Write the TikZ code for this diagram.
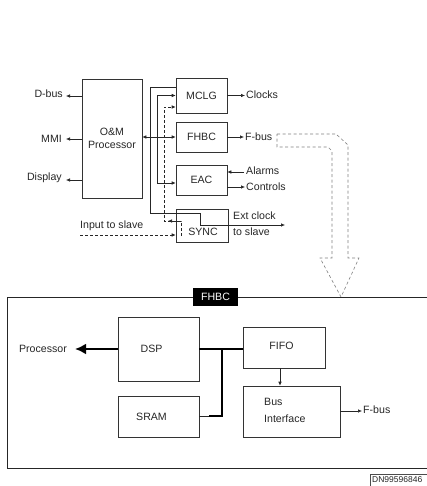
\documentclass[tikz,border=0pt]{standalone}
\usepackage{fontspec}
\setmainfont{Liberation Sans}
\usetikzlibrary{arrows.meta}
\begin{document}
\begin{tikzpicture}[x=1pt,y=-1pt,
  box/.style={draw=black!80, line width=0.6pt, inner sep=0pt, font=\fontsize{10.6}{13}\selectfont, text=black!85},
  lbl/.style={inner sep=0pt, font=\fontsize{10.6}{13}\selectfont, text=black!85},
  wire/.style={line width=0.6pt, draw=black!85},
  arr/.style={wire, -{Latex[length=4pt,width=3.5pt]}},
  biarr/.style={wire, {Latex[length=4pt,width=3.5pt]}-{Latex[length=4pt,width=3.5pt]}},
  dwire/.style={line width=0.6pt, draw=black!85, dash pattern=on 3pt off 2pt},
  fbout/.style={line width=0.6pt, draw=black!50, dash pattern=on 3pt off 2.5pt},
  bus/.style={line width=2.5pt, draw=black}
]
\useasboundingbox (0,0) rectangle (427,486);

% ---------- upper part ----------
\node[box, minimum width=60, minimum height=119, align=center] (om) at (112,138.5) {O\&M\\Processor};
\node[box, minimum width=51, minimum height=35] (mclg) at (201.5,95.5) {MCLG};
\node[box, minimum width=51, minimum height=30] (fhbc) at (201.5,137) {FHBC};
\node[box, minimum width=51, minimum height=30] (eac) at (201.5,180) {EAC};
\node[box, minimum width=52, minimum height=33] (sync) at (202,225.5) {};
\node[lbl] (synct) at (203,232) {SYNC};

% left outputs
\node[lbl, anchor=east] (dbus) at (63,94) {D-bus};
\node[lbl, anchor=east] (mmi) at (62,139) {MMI};
\node[lbl, anchor=east] (disp) at (62,178) {Display};
\coordinate (dbe) at (66,96);
\coordinate (mme) at (66,139);
\coordinate (dse) at (66,180);
\draw[arr] (om.west |- dbe) -- (dbe);
\draw[arr] (om.west |- mme) -- (mme);
\draw[arr] (om.west |- dse) -- (dse);

% O&M <-> FHBC
\draw[biarr] (om.east |- fhbc.west) -- (fhbc.west);

% line A: MCLG -> SYNC -> Ext clock
\coordinate (a1) at (150,87);
\coordinate (a2) at (150,213);
\coordinate (a3) at (200,213);
\coordinate (a4) at (200,225);
\coordinate (ext) at (285,225);
\draw[arr] (a1 -| mclg.west) -- (a1) -- (a2) -- (a3) -- (a4) -- (ext);

% line B: MCLG <-> EAC
\coordinate (b1) at (157,95.5);
\coordinate (b2) at (157,183);
\draw[biarr] (b1 -| mclg.west) -- (b1) -- (b2) -- (b2 -| eac.west);

% dashed line C: SYNC -> MCLG
\coordinate (c0) at (181,236);
\coordinate (c1) at (181,221);
\coordinate (c2) at (164,221);
\coordinate (c3) at (164,107);
\draw[dwire, -{Latex[length=4pt,width=3.5pt]}] (c0) -- (c1) -- (c2) -- (c3) -- (c3 -| mclg.west);
\coordinate (cm) at (168,221);
\draw[arr] (c1) -- (cm);

% input to slave
\node[lbl, anchor=west] (inp) at (80,226) {Input to slave};
\coordinate (i0) at (80,235);
\draw[dwire, -{Latex[length=4pt,width=3.5pt]}] (i0) -- (i0 -| sync.west);

% right outputs
\coordinate (clk) at (245,95.5);
\draw[arr] (mclg.east) -- (clk);
\node[lbl, anchor=west] (clkt) at (246,95) {Clocks};
\coordinate (fb) at (244,137);
\draw[arr] (fhbc.east) -- (fb);
\node[lbl, anchor=west] (fbt) at (245,137) {F-bus};
\coordinate (al) at (244,172);
\draw[arr] (al) -- (al -| eac.east);
\node[lbl, anchor=west] (alt) at (246,171) {Alarms};
\coordinate (ct) at (245,187);
\draw[arr] (ct -| eac.east) -- (ct);
\node[lbl, anchor=west] (ctt) at (246,187) {Controls};
\node[lbl, anchor=west] (extt) at (233,216) {Ext clock};
\node[lbl, anchor=west] (slvt) at (233,232) {to slave};

% F-bus dashed big arrow
\draw[fbout] (277,134) -- (336,134) -- (348,145) -- (348,258) -- (359,258) -- (341,297)
  -- (320,258) -- (332,258) -- (332,151) -- (328,147) -- (277,147) -- cycle;

% ---------- lower FHBC frame ----------
\node[fill=black, text=white, inner sep=0pt, minimum width=45, minimum height=18,
      font=\fontsize{10.6}{12}\selectfont] (flab) at (215.5,297) {FHBC};
\draw[wire] (flab.west) -- (7,297) -- (7,468) -- (427,468);
\draw[wire] (flab.east) -- (427,297);

\node[box, minimum width=81, minimum height=64] (dsp) at (158.5,349) {};
\node[lbl] (dspt) at (151.5,349) {DSP};
\node[box, minimum width=81, minimum height=41] (sram) at (158.5,416.5) {};
\node[lbl] (sramt) at (151.5,417) {SRAM};
\node[box, minimum width=82, minimum height=41] (fifo) at (284,347.5) {};
\node[lbl] (fifot) at (281.5,346) {FIFO};
\node[box, minimum width=97, minimum height=51] (bi) at (291.5,411.5) {};
\node[lbl, anchor=west, align=left, font=\fontsize{10.6}{17}\selectfont] (bit) at (264,410.5) {Bus\\Interface};

\node[lbl, anchor=east] (proc) at (67,349) {Processor};
\coordinate (pe) at (75,349);
\draw[bus, -{Latex[length=11pt,width=11pt]}] (dsp.west) -- (pe);

\coordinate (j1) at (222,349);
\coordinate (j2) at (222,416);
\coordinate (j3) at (209,416);
\draw[bus] (dsp.east) -- (dsp.east -| fifo.west);
\draw[bus] (j1) -- (j2) -- (j3);
\draw[wire] (j3) -- (j3 -| sram.east);

\draw[arr] ([xshift=-4pt]fifo.south) -- ([xshift=-4pt]fifo.south |- bi.north);

\coordinate (fo) at (362,411);
\draw[arr] (bi.east |- fo) -- (fo);
\node[lbl, anchor=west] (fot) at (363,410) {F-bus};

% document number
\node[inner sep=0pt, anchor=west, font=\fontsize{8.5}{10}\selectfont, text=black!85] (dn) at (372,480) {DN99596846};
\draw[line width=0.5pt, draw=black!70] (370,486) -- (370,474) -- (427,474);
\end{tikzpicture}
\end{document}
